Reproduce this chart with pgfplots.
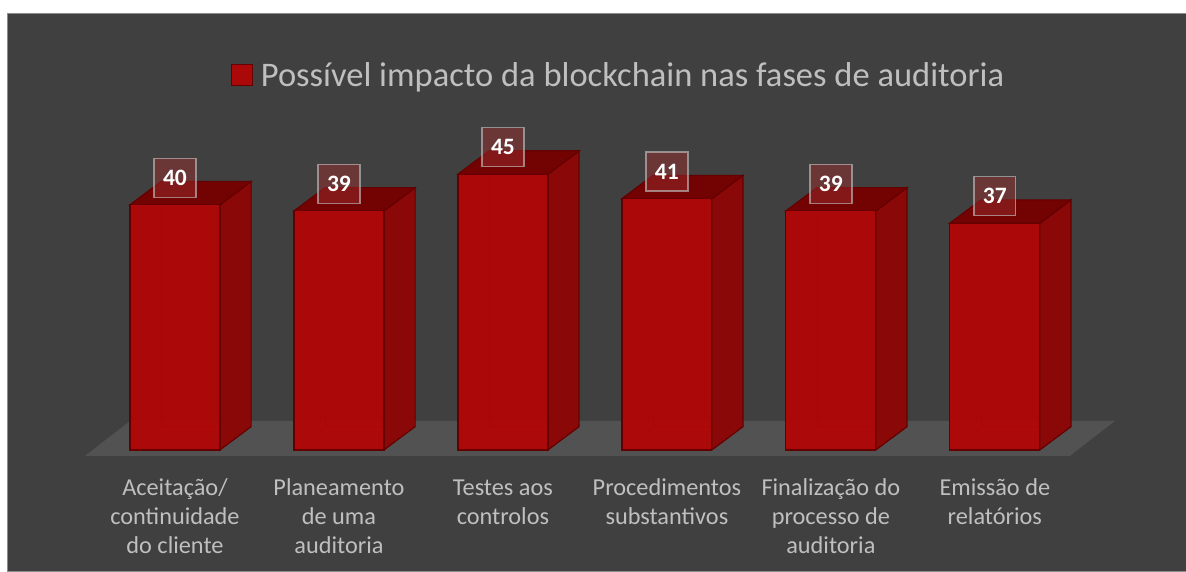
\documentclass[border=0pt]{standalone}
\usepackage{pgfplots}
\pgfplotsset{compat=1.18}
\usepackage{fontspec}
\setmainfont{Carlito}
\definecolor{bgc}{RGB}{64,64,64}
\definecolor{floorc}{RGB}{82,82,82}
\definecolor{frontc}{RGB}{178,6,6}
\definecolor{sidec}{RGB}{138,8,8}
\definecolor{topc}{RGB}{115,3,3}
\definecolor{edgec}{RGB}{100,0,0}
\definecolor{labc}{RGB}{191,191,191}
\definecolor{boxc}{RGB}{150,45,45}
\begin{document}
\begin{tikzpicture}
\begin{axis}[
  set layers,
  x=164pt, y=6.13pt,
  xmin=-1.0671, xmax=6.1646, ymin=-19.739, ymax=73.41,
  clip=false,
  axis background/.style={fill=white},
  axis line style={draw=none},
  tick style={draw=none},
  ytick=\empty,
  xtick={0,1,2,3,4,5},
  xticklabels={{Aceitação/\\continuidade\\do cliente},{Planeamento\\de uma\\auditoria},{Testes aos\\controlos},{Procedimentos\\substantivos},{Finalização do\\processo de\\auditoria},{Emissão de\\relatórios}},
  typeset ticklabels with strut,
  xticklabel style={align=center, anchor=north, yshift=99pt, text=labc, font=\fontsize{24.3}{29}\selectfont},
  legend style={at={(axis description cs:0.5215,0.8687)}, anchor=center, draw=none, fill=none, text=labc, font=\fontsize{34.5}{40}\selectfont, inner sep=0pt},
  legend image code/.code={\draw[fill=frontc, draw=edgec, line width=1.5pt] (0pt,-10.5pt) rectangle (21pt,10.5pt); \path (27pt,0pt);},
  /pgf/number format/assume math mode=true,
]
% chart area
\begin{pgfonlayer}{axis background}
\fill[bgc, draw=gray!90] (axis cs:-1.0244,71.29) rectangle (axis cs:6.1646,-19.739);
\end{pgfonlayer}
% floor
\addplot[forget plot, fill=floorc, draw=none] coordinates {(-0.549,-0.98) (5.457,-0.98) (5.732,4.73) (-0.274,4.73)} -- cycle;
% hidden back edges
\addplot[forget plot, draw=edgec, line width=0.8pt] coordinates {(-0.2744,0) (-0.0844,3.8) (0.4644,3.8)};
\addplot[forget plot, draw=edgec, line width=0.8pt] coordinates {(-0.0844,3.8) (-0.0844,43.8)};
\addplot[forget plot, draw=edgec, line width=0.8pt] coordinates {(0.7256,0) (0.9156,3.8) (1.4644,3.8)};
\addplot[forget plot, draw=edgec, line width=0.8pt] coordinates {(0.9156,3.8) (0.9156,42.8)};
\addplot[forget plot, draw=edgec, line width=0.8pt] coordinates {(1.7256,0) (1.9156,3.8) (2.4644,3.8)};
\addplot[forget plot, draw=edgec, line width=0.8pt] coordinates {(1.9156,3.8) (1.9156,48.8)};
\addplot[forget plot, draw=edgec, line width=0.8pt] coordinates {(2.7256,0) (2.9156,3.8) (3.4644,3.8)};
\addplot[forget plot, draw=edgec, line width=0.8pt] coordinates {(2.9156,3.8) (2.9156,44.8)};
\addplot[forget plot, draw=edgec, line width=0.8pt] coordinates {(3.7256,0) (3.9156,3.8) (4.4644,3.8)};
\addplot[forget plot, draw=edgec, line width=0.8pt] coordinates {(3.9156,3.8) (3.9156,42.8)};
\addplot[forget plot, draw=edgec, line width=0.8pt] coordinates {(4.7256,0) (4.9156,3.8) (5.4644,3.8)};
\addplot[forget plot, draw=edgec, line width=0.8pt] coordinates {(4.9156,3.8) (4.9156,40.8)};
% side faces
\addplot[forget plot, fill=sidec, draw=edgec, line width=1.2pt] coordinates {(0.2744,0) (0.4644,3.8) (0.4644,43.8) (0.2744,40)} -- cycle;
\addplot[forget plot, fill=sidec, draw=edgec, line width=1.2pt] coordinates {(1.2744,0) (1.4644,3.8) (1.4644,42.8) (1.2744,39)} -- cycle;
\addplot[forget plot, fill=sidec, draw=edgec, line width=1.2pt] coordinates {(2.2744,0) (2.4644,3.8) (2.4644,48.8) (2.2744,45)} -- cycle;
\addplot[forget plot, fill=sidec, draw=edgec, line width=1.2pt] coordinates {(3.2744,0) (3.4644,3.8) (3.4644,44.8) (3.2744,41)} -- cycle;
\addplot[forget plot, fill=sidec, draw=edgec, line width=1.2pt] coordinates {(4.2744,0) (4.4644,3.8) (4.4644,42.8) (4.2744,39)} -- cycle;
\addplot[forget plot, fill=sidec, draw=edgec, line width=1.2pt] coordinates {(5.2744,0) (5.4644,3.8) (5.4644,40.8) (5.2744,37)} -- cycle;
% top faces
\addplot[forget plot, fill=topc, draw=edgec, line width=1.2pt] coordinates {(-0.2744,40) (0.2744,40) (0.4644,43.8) (-0.0844,43.8)} -- cycle;
\addplot[forget plot, fill=topc, draw=edgec, line width=1.2pt] coordinates {(0.7256,39) (1.2744,39) (1.4644,42.8) (0.9156,42.8)} -- cycle;
\addplot[forget plot, fill=topc, draw=edgec, line width=1.2pt] coordinates {(1.7256,45) (2.2744,45) (2.4644,48.8) (1.9156,48.8)} -- cycle;
\addplot[forget plot, fill=topc, draw=edgec, line width=1.2pt] coordinates {(2.7256,41) (3.2744,41) (3.4644,44.8) (2.9156,44.8)} -- cycle;
\addplot[forget plot, fill=topc, draw=edgec, line width=1.2pt] coordinates {(3.7256,39) (4.2744,39) (4.4644,42.8) (3.9156,42.8)} -- cycle;
\addplot[forget plot, fill=topc, draw=edgec, line width=1.2pt] coordinates {(4.7256,37) (5.2744,37) (5.4644,40.8) (4.9156,40.8)} -- cycle;
% front faces with data labels
\addplot[ybar, bar width=90pt, fill=frontc, fill opacity=0.94, draw=edgec, line width=1.2pt,
  nodes near coords,
  nodes near coords style={anchor=center, yshift=27pt, text=white, text opacity=1, fill=boxc, fill opacity=0.5, draw=labc, draw opacity=0.65, line width=1.3pt, minimum width=42pt, minimum height=39pt, inner sep=0pt, font=\fontsize{23.5}{27}\selectfont\bfseries}]
  coordinates {(0,40) (1,39) (2,45) (3,41) (4,39) (5,37)};
\addlegendentry{Possível impacto da blockchain nas fases de auditoria}
\end{axis}
\end{tikzpicture}
\end{document}
